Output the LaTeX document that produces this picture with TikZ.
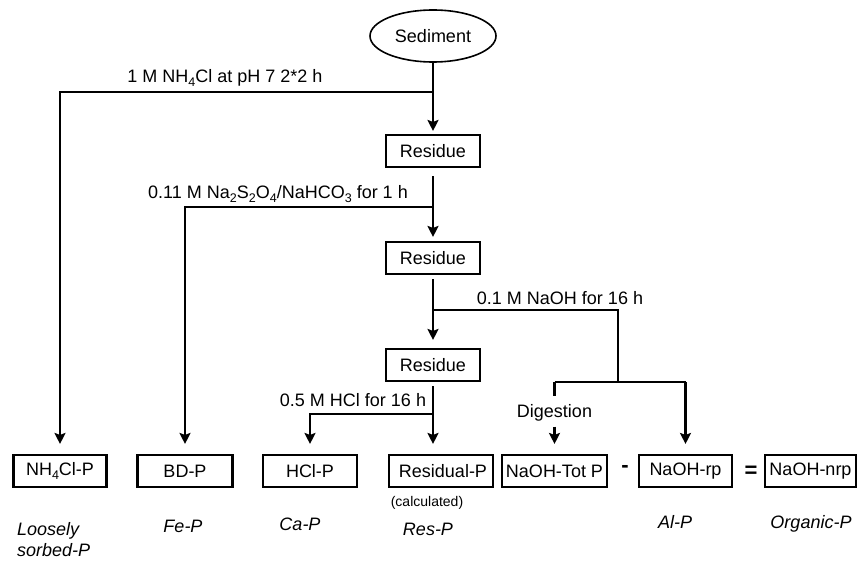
\documentclass[tikz,border=0pt]{standalone}
\usepackage{fontspec}
\setmainfont{Liberation Sans}
\usetikzlibrary{arrows.meta,shapes.geometric}
\newcommand{\sbs}[1]{\raisebox{-0.4ex}{\fontsize{12.5}{12.5}\selectfont #1}}
\begin{document}
\begin{tikzpicture}[x=1pt,y=-1pt,
  every node/.style={font=\fontsize{18}{21}\selectfont},
  box/.style={draw,line width=2.1pt,minimum height=32pt,inner sep=0pt},
  conn/.style={line width=2.1pt},
  arr/.style={conn,-{Stealth[length=11pt,width=11pt,inset=2pt]}},
  lbl/.style={inner sep=0pt},
  it/.style={inner sep=0pt,font=\fontsize{18}{21}\selectfont\itshape}]
\useasboundingbox (0,0) rectangle (857,561);

% column nodes
\node[ellipse,draw,line width=1.6pt,minimum width=126pt,minimum height=52pt,inner sep=0pt] (sed) at (433,36) {Sediment};
\node[box,minimum width=94pt] (r1) at (433,151) {Residue};
\node[box,minimum width=94pt] (r2) at (433,258) {Residue};
\node[box,minimum width=94pt] (r3) at (433,365) {Residue};

% bottom boxes
\node[box,minimum width=93pt] (nh4) at (60,471) {NH\sbs{4}Cl-P};
\node[box,minimum width=95pt] (bd) at (185,471) {BD-P};
\node[box,minimum width=94pt] (hcl) at (310,471) {HCl-P};
\node[box,minimum width=104pt] (res) at (441,471) {\hspace*{4pt}Residual-P};
\node[box,minimum width=105pt] (tot) at (554.5,471) {NaOH-Tot P};
\node[box,minimum width=93pt] (rp) at (685.5,471) {NaOH-rp};
\node[box,minimum width=91pt] (nrp) at (810.5,471) {NaOH-nrp};
\node[lbl,font=\fontsize{22}{22}\selectfont\bfseries] (minus) at (625,469) {-};
\node[lbl,font=\fontsize{22}{22}\selectfont\bfseries] (eq) at (751,472) {=};

% branch coordinates
\coordinate (b1) at (433,92);
\coordinate (b2) at (433,207);
\coordinate (b3) at (433,310);
\coordinate (b4) at (433,414);
\coordinate (c3) at (618,382);
\coordinate (dl) at (554.5,382);
\coordinate (dr) at (685.5,382);
\coordinate (dl2) at (554.5,396);

% main column
\draw[arr,shorten >=3pt] (sed) -- (r1);
\draw[arr,shorten <=8pt,shorten >=4pt] (r1) -- (r2);
\draw[arr,shorten <=4pt,shorten >=8pt] (r2) -- (r3);
\draw[arr,shorten <=4pt,shorten >=10pt] (r3.south) -- (r3.south |- res.north);

% side branches
\draw[arr,shorten >=10pt] (b1) -| (nh4.north);
\draw[arr,shorten >=10pt] (b2) -| (bd.north);
\draw[arr,shorten >=10pt] (b4) -| (hcl.north);
\draw[conn] (b3) -| (c3);
\draw[conn] (dl) -- (dr);
\draw[conn] (dl) -- (dl2);
\draw[arr,shorten >=10pt] (dr) -- (rp.north);

% labels
\node[lbl] (l1) at (225,78) {1 M NH\sbs{4}Cl at pH 7 2*2 h};
\node[lbl] (l2) at (278,194) {0.11 M Na\sbs{2}S\sbs{2}O\sbs{4}/NaHCO\sbs{3} for 1 h};
\node[lbl] (l3) at (560,298) {0.1 M NaOH for 16 h};
\node[lbl] (l4) at (353,400) {0.5 M HCl for 16 h};
\node[lbl] (dig) at (554.5,413) {Digestion};
\draw[arr,shorten <=5pt,shorten >=10pt] (dig.south) -- (tot.north);

% bottom labels
\node[lbl,font=\fontsize{14}{16}\selectfont] (calc) at (427,503) {(calculated)};
\node[it,align=left,anchor=west] (loose) at (17,540) {Loosely\\sorbed-P};
\node[it] (fep) at (183,526) {Fe-P};
\node[it] (cap) at (300,524) {Ca-P};
\node[it] (resp) at (428,529) {Res-P};
\node[it] (alp) at (675,522) {Al-P};
\node[it] (orgp) at (811,524) {Organic-P};
\end{tikzpicture}
\end{document}
